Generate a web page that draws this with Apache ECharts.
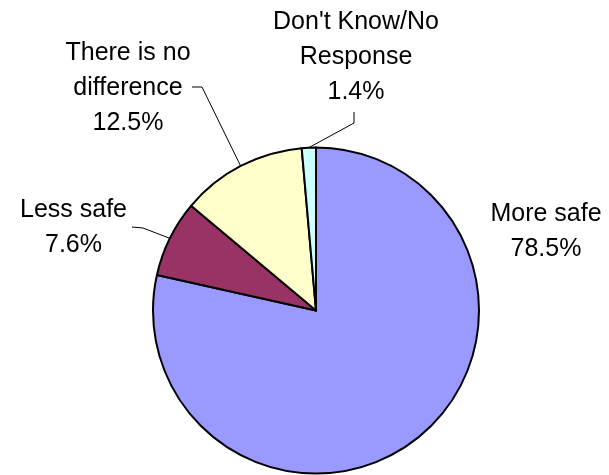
<!DOCTYPE html>
<html>
<head>
<meta charset="utf-8">
<script src="https://cdn.jsdelivr.net/npm/echarts@6/dist/echarts.min.js"></script>
<style>
html,body{margin:0;padding:0;background:#fff;}
#chart{width:609px;height:475px;}
</style>
</head>
<body>
<div id="chart"></div>
<script>
var categories = ['More safe', 'Less safe', 'There is no\ndifference', "Don't Know/No\nResponse"];
var values = [78.5, 7.6, 12.5, 1.4];
var colors = ['#9999FF', '#993366', '#FFFFCC', '#CCFFFF'];

// label box centres and leader-line bends (text placement only)
var labelPlace = [
  {x: 546, y: 232, line: null},
  {x: 73.5, y: 228, line: [[143, 228], [132, 227]]},
  {x: 128, y: 88, line: [[202, 87], [192, 87]]},
  {x: 356, y: 57, line: [[354, 123], [354, 112]]}
];

var chart = echarts.init(document.getElementById('chart'), null, {renderer: 'canvas'});
chart.setOption({
  animation: false,
  backgroundColor: '#ffffff',
  series: [{
    type: 'pie',
    center: [316, 310.5],
    radius: 163,
    startAngle: 90,
    clockwise: true,
    avoidLabelOverlap: false,
    data: categories.map(function (c, i) {
      return {
        name: c,
        value: values[i],
        itemStyle: {color: colors[i]},
        labelLine: {show: i !== 0}
      };
    }),
    itemStyle: {borderColor: '#000', borderWidth: 2},
    label: {
      show: true,
      position: 'outside',
      color: '#000',
      fontFamily: 'Liberation Sans, Arial, sans-serif',
      fontSize: 25,
      lineHeight: 35,
      align: 'center',
      formatter: function (p) { return p.name + '\n' + p.value.toFixed(1) + '%'; }
    },
    labelLine: {
      show: true,
      length: 10,
      length2: 10,
      lineStyle: {color: '#000', width: 1}
    },
    labelLayout: function (params) {
      var pl = labelPlace[params.dataIndex];
      var res = {x: pl.x, y: pl.y, align: 'center', verticalAlign: 'middle'};
      if (pl.line && params.labelLinePoints) {
        res.labelLinePoints = [params.labelLinePoints[0], pl.line[0], pl.line[1]];
      }
      return res;
    },
    emphasis: {disabled: true}
  }]
});
</script>
</body>
</html>
